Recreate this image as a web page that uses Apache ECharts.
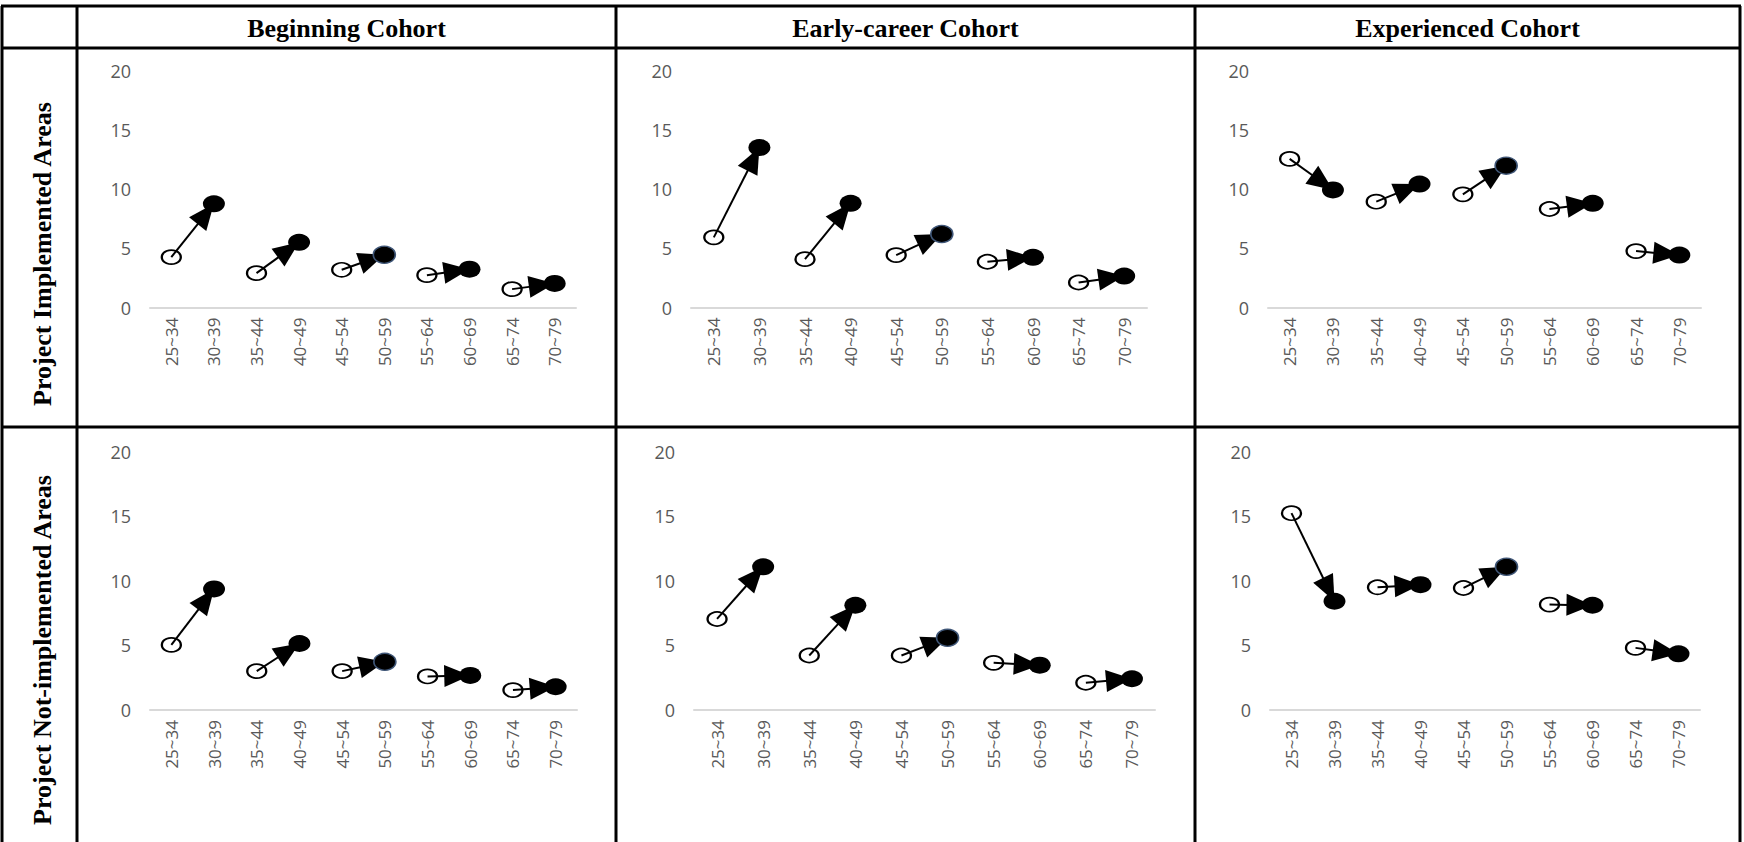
<!DOCTYPE html>
<html>
<head>
<meta charset="utf-8">
<title>Cohort change by age group</title>
<script src="https://cdn.jsdelivr.net/npm/echarts@6/dist/echarts.min.js"></script>
<style>
    html, body {margin: 0; padding: 0; background: #fff;}
    #main {width: 1744px; height: 842px;}
</style>
</head>
<body>
<div id="main"></div>
<script>
// age groups on the x axis (pairs: start group -> end group)
var ageGroups = ['25~34', '30~39', '35~44', '40~49', '45~54', '50~59', '55~64', '60~69', '65~74', '70~79'];
var yMin = 0, yMax = 20, yStep = 5;

var colHeads = ['Beginning Cohort', 'Early-career Cohort', 'Experienced Cohort'];
var rowHeads = ['Project Implemented Areas', 'Project Not-implemented Areas'];

// Project implemented areas
var beginImplStart = [4.25, 2.9, 3.18, 2.73, 1.55];
var beginImplEnd   = [8.75, 5.5, 4.45, 3.23, 2.03];
var earlyImplStart = [5.92, 4.08, 4.42, 3.86, 2.11];
var earlyImplEnd   = [13.5, 8.79, 6.2, 4.23, 2.65];
var expImplStart   = [12.54, 8.93, 9.55, 8.31, 4.76];
var expImplEnd     = [9.92, 10.42, 11.97, 8.79, 4.42];

// Project not-implemented areas
var beginNotStart = [5.04, 3.01, 3.01, 2.6, 1.54];
var beginNotEnd   = [9.37, 5.15, 3.73, 2.68, 1.8];
var earlyNotStart = [7.05, 4.22, 4.22, 3.65, 2.11];
var earlyNotEnd   = [11.09, 8.11, 5.59, 3.47, 2.42];
var expNotStart   = [15.24, 9.5, 9.45, 8.16, 4.81];
var expNotEnd     = [8.42, 9.7, 11.09, 8.11, 4.35];

// one panel per table cell
var panels = [
    {start: beginImplStart, end: beginImplEnd, left: 150, top: 70.5, width: 426, height: 237},
    {start: earlyImplStart, end: earlyImplEnd, left: 691, top: 70.5, width: 456, height: 237},
    {start: expImplStart, end: expImplEnd, left: 1268, top: 70.5, width: 433, height: 237},
    {start: beginNotStart, end: beginNotEnd, left: 150, top: 451.7, width: 427, height: 258.3},
    {start: earlyNotStart, end: earlyNotEnd, left: 694, top: 451.7, width: 461, height: 258.3},
    {start: expNotStart, end: expNotEnd, left: 1270, top: 451.7, width: 430, height: 258.3}
];

// arrow from the open marker to the filled one, head tip sits under the filled marker
function renderArrow(params, api) {
    var p0 = api.coord([api.value(0), api.value(1)]);
    var p1 = api.coord([api.value(2), api.value(3)]);
    var dx = p1[0] - p0[0], dy = p1[1] - p0[1];
    var len = Math.sqrt(dx * dx + dy * dy) || 1;
    var ux = dx / len, uy = dy / len;
    var headLen = 26, headHalf = 11;
    var bx = p1[0] - ux * headLen, by = p1[1] - uy * headLen;
    return {
        type: 'group',
        children: [
            {type: 'line', shape: {x1: p0[0], y1: p0[1], x2: bx + ux * 2, y2: by + uy * 2}, style: {stroke: '#000', lineWidth: 2}},
            {type: 'polygon', shape: {points: [[p1[0], p1[1]], [bx - uy * headHalf, by + ux * headHalf], [bx + uy * headHalf, by - ux * headHalf]]}, style: {fill: '#000'}}
        ]
    };
}

var grids = [], xAxes = [], yAxes = [], series = [];
panels.forEach(function (p, i) {
    grids.push({left: p.left, top: p.top, width: p.width, height: p.height, outerBoundsMode: 'none'});
    xAxes.push({
        type: 'category',
        gridIndex: i,
        data: ageGroups,
        boundaryGap: true,
        axisLine: {lineStyle: {color: '#d9d9d9', width: 2}},
        axisTick: {show: false},
        splitLine: {show: false},
        axisLabel: {rotate: 90, margin: 10, interval: 0, color: '#595959', fontFamily: 'Open Sans', fontSize: 17}
    });
    yAxes.push({
        type: 'value',
        gridIndex: i,
        min: yMin,
        max: yMax,
        interval: yStep,
        axisLine: {show: false},
        axisTick: {show: false},
        splitLine: {show: false},
        axisLabel: {margin: 19, color: '#595959', fontFamily: 'Open Sans', fontSize: 18}
    });

    var openPts = [], arrows = [], fullPts = [];
    for (var k = 0; k < p.start.length; k++) {
        var a = ageGroups[2 * k], b = ageGroups[2 * k + 1];
        openPts.push([a, p.start[k]]);
        arrows.push([a, p.start[k], b, p.end[k]]);
        var item = {value: [b, p.end[k]]};
        if (b === '50~59') {//this marker has a dark outline in the original
            item.itemStyle = {borderColor: '#3f5677', borderWidth: 1.5};
        }
        fullPts.push(item);
    }
    series.push({
        type: 'scatter', xAxisIndex: i, yAxisIndex: i, z: 2, silent: true,
        symbol: 'circle', symbolSize: [19, 14],
        itemStyle: {color: 'rgba(255,255,255,0)', borderColor: '#000', borderWidth: 2, opacity: 1},
        data: openPts
    });
    series.push({
        type: 'custom', xAxisIndex: i, yAxisIndex: i, z: 3, silent: true,
        encode: {x: [0, 2], y: [1, 3]},
        renderItem: renderArrow,
        data: arrows
    });
    series.push({
        type: 'scatter', xAxisIndex: i, yAxisIndex: i, z: 4, silent: true,
        symbol: 'circle', symbolSize: [22, 17],
        itemStyle: {color: '#000', opacity: 1},
        data: fullPts
    });
});

// table frame
var lw = 3;
var colX = [2, 77, 616, 1195, 1740];
var rowY = [6, 48, 427];
var frame = [];
rowY.forEach(function (y) {
    frame.push({type: 'line', shape: {x1: colX[0] - 1, y1: y, x2: colX[4] + 1, y2: y}, style: {stroke: '#000', lineWidth: lw}});
});
colX.forEach(function (x) {
    frame.push({type: 'line', shape: {x1: x, y1: rowY[0], x2: x, y2: 842}, style: {stroke: '#000', lineWidth: lw}});
});
colHeads.forEach(function (t, i) {
    frame.push({
        type: 'text', x: (colX[i + 1] + colX[i + 2]) / 2, y: 28,
        style: {text: t, fill: '#000', font: 'bold 26px "Liberation Serif"', align: 'center', verticalAlign: 'middle'}
    });
});
var rowMid = [254, 650];
rowHeads.forEach(function (t, i) {
    frame.push({
        type: 'text', x: 42, y: rowMid[i], rotation: Math.PI / 2,
        style: {text: t, fill: '#000', font: 'bold 26px "Liberation Serif"', align: 'center', verticalAlign: 'middle'}
    });
});

var myChart = echarts.init(document.getElementById('main'), null, {renderer: 'svg'});
myChart.setOption({
    animation: false,
    backgroundColor: '#fff',
    grid: grids,
    xAxis: xAxes,
    yAxis: yAxes,
    series: series,
    graphic: {elements: frame}
});
</script>
</body>
</html>
